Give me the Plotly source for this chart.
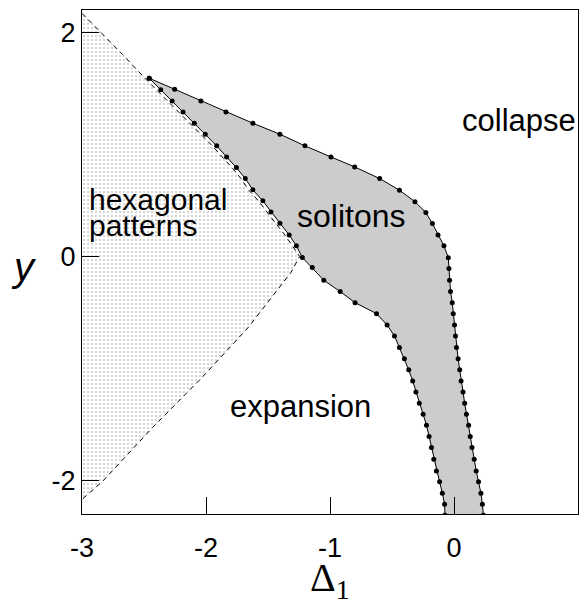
import plotly.graph_objects as go

# soliton region, upper/right boundary (computed points)
sol_up_x = [-2.458, -2.253, -2.041, -1.839, -1.622, -1.404, -1.202, -0.992, -0.801, -0.599,
            -0.440, -0.315, -0.227, -0.174, -0.129, -0.081, -0.046, -0.041, -0.036, -0.028,
            -0.014, -0.006, 0.004, 0.012, 0.020, 0.033, 0.046, 0.057, 0.073, 0.086,
            0.100, 0.118, 0.131, 0.145, 0.163, 0.179, 0.198, 0.217, 0.229, 0.237]
sol_up_y = [1.591, 1.493, 1.388, 1.290, 1.189, 1.091, 0.987, 0.888, 0.799, 0.695,
            0.591, 0.489, 0.391, 0.293, 0.192, 0.094, -0.011, -0.109, -0.213, -0.314,
            -0.413, -0.511, -0.612, -0.710, -0.814, -0.913, -1.013, -1.112, -1.210, -1.311,
            -1.409, -1.507, -1.609, -1.707, -1.811, -1.915, -2.013, -2.114, -2.213, -2.311]

# soliton region, lower/left boundary
sol_lo_x = [-2.458, -2.365, -2.273, -2.185, -2.094, -2.006, -1.914, -1.834, -1.755, -1.683,
            -1.622, -1.542, -1.476, -1.404, -1.329, -1.271, -1.223, -1.143, -1.050, -0.918,
            -0.798, -0.625, -0.540, -0.480, -0.440, -0.400, -0.365, -0.333, -0.307, -0.280,
            -0.249, -0.222, -0.201, -0.182, -0.163, -0.142, -0.116, -0.094, -0.076, -0.073]
sol_lo_y = [1.591, 1.487, 1.388, 1.290, 1.189, 1.091, 0.987, 0.888, 0.793, 0.695,
            0.594, 0.496, 0.397, 0.297, 0.192, 0.094, -0.010, -0.100, -0.213, -0.314,
            -0.413, -0.511, -0.612, -0.710, -0.814, -0.913, -1.013, -1.112, -1.210, -1.311,
            -1.409, -1.507, -1.609, -1.707, -1.811, -1.915, -2.013, -2.114, -2.213, -2.311]

# hexagonal pattern region, dashed borders
hex_up_x = [-3.0, -2.83, -2.67, -2.493, -2.40, -2.308, -2.22, -2.129, -2.041, -1.949,
            -1.869, -1.79, -1.718, -1.657, -1.577, -1.511, -1.439, -1.364, -1.306, -1.245]
hex_up_y = [2.17, 1.98, 1.80, 1.591, 1.487, 1.388, 1.290, 1.189, 1.091, 0.987,
            0.888, 0.793, 0.695, 0.594, 0.496, 0.397, 0.297, 0.192, 0.094, 0.0]
hex_lo_x = [-1.245, -1.316, -1.661, -2.033, -2.432, -2.830, -3.0]
hex_lo_y = [0.0, -0.145, -0.636, -1.082, -1.529, -2.004, -2.17]

x_ticks = [-3, -2, -1, 0, 1]
x_tick_text = ["-3", "-2", "-1", "0", "1"]
y_ticks = [-2, 0, 2]
y_tick_text = ["-2", "0", "2"]

fig = go.Figure()

# dotted hexagonal region
fig.add_trace(go.Scatter(
    x=hex_up_x + hex_lo_x, y=hex_up_y + hex_lo_y,
    mode="none", fill="toself", fillcolor="white",
    fillpattern=dict(shape=".", fgcolor="#333333", bgcolor="white", size=4, solidity=0.12),
    hoverinfo="skip", showlegend=False))
fig.add_trace(go.Scatter(
    x=hex_up_x + hex_lo_x, y=hex_up_y + hex_lo_y,
    mode="lines", line=dict(color="black", width=1, dash="5px,4px"),
    hoverinfo="skip", showlegend=False))

# gray soliton region
fig.add_trace(go.Scatter(
    x=sol_up_x + sol_lo_x[::-1], y=sol_up_y + sol_lo_y[::-1],
    mode="none", fill="toself", fillcolor="rgb(204,204,204)",
    hoverinfo="skip", showlegend=False))
for bx, by in [(sol_up_x, sol_up_y), (sol_lo_x, sol_lo_y)]:
    fig.add_trace(go.Scatter(
        x=bx, y=by, mode="lines+markers",
        line=dict(color="black", width=1),
        marker=dict(color="black", size=5),
        cliponaxis=True, showlegend=False))

sans = "Liberation Sans, Arial, sans-serif"
notes = [
    dict(x=-2.96, y=0.509, text="hexagonal", xanchor="left", size=30),
    dict(x=-2.96, y=0.277, text="patterns", xanchor="left", size=30),
    dict(x=-0.825, y=0.357, text="solitons", xanchor="center", size=32),
    dict(x=-1.239, y=-1.339, text="expansion", xanchor="center", size=31),
    dict(x=1.0, y=1.214, text="collapse", xanchor="right", size=31),
]
for n in notes:
    fig.add_annotation(xref="x", yref="y", x=n["x"], y=n["y"], text=n["text"],
                       xanchor=n["xanchor"], yanchor="middle", showarrow=False,
                       font=dict(family=sans, size=n["size"], color="black"))

fig.add_annotation(xref="paper", yref="paper", x=-0.1175, y=0.49, text="<i>y</i>",
                   showarrow=False, xanchor="center", yanchor="middle",
                   font=dict(family=sans, size=40, color="black"))
fig.add_annotation(xref="paper", yref="paper", x=0.5, y=-0.13, text="Δ<sub>1</sub>",
                   showarrow=False, xanchor="center", yanchor="middle",
                   font=dict(family="Liberation Serif, Times New Roman, serif", size=40, color="black"))

ax = dict(showline=True, linecolor="black", linewidth=1, mirror=True,
          ticks="inside", ticklen=17, tickwidth=1, tickcolor="black",
          showgrid=False, zeroline=False, automargin=False,
          tickfont=dict(family=sans, size=27, color="black"))

fig.update_xaxes(range=[-3, 1], tickvals=x_ticks, ticktext=x_tick_text,
                 ticklabelstandoff=10, **ax)
fig.update_yaxes(range=[-2.3, 2.2], tickvals=y_ticks, ticktext=y_tick_text,
                 ticklabelstandoff=0, **ax)

# the page adds an 8px body margin and only ~571px of width is visible,
# so the figure is made a bit smaller and shifted
fig.update_layout(
    width=571, height=596,
    margin=dict(l=74, r=1, t=2, b=90),
    plot_bgcolor="white", paper_bgcolor="white",
    showlegend=False,
)

fig.write_html("out.html")
